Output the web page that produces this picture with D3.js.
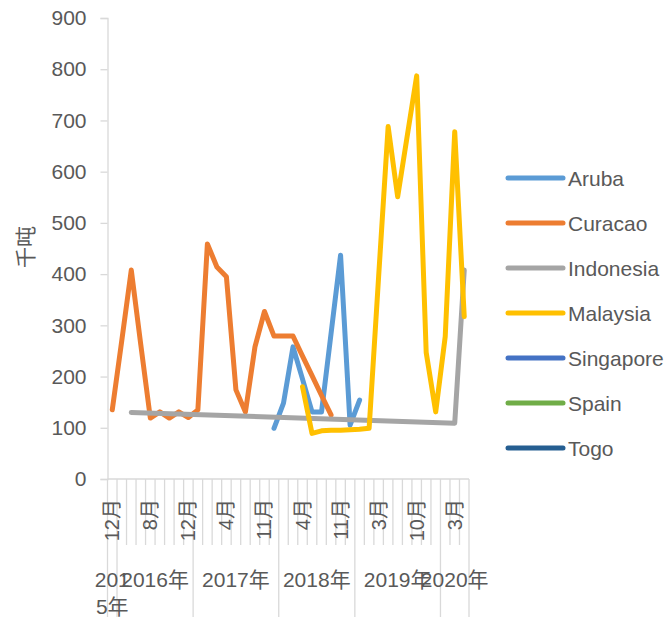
<!DOCTYPE html>
<html>
<head>
<meta charset="utf-8">
<script src="https://cdn.jsdelivr.net/npm/d3@7/dist/d3.min.js"></script>
<style>
  body { margin: 0; background: #fff; }
  text { font-family: "Liberation Sans", "Noto Sans CJK SC", sans-serif; fill: #595959; }
</style>
</head>
<body>
<svg width="664" height="617"></svg>
<script>
// category axis: years and the months that appear under each year
var years = ["2015年", "2016年", "2017年", "2018年", "2019年", "2020年"];
var months = [
  [12],
  [5, 6, 7, 8, 9, 10, 11, 12],
  [1, 2, 3, 4, 5, 7, 9, 11, 12],
  [2, 3, 4, 6, 8, 10, 11, 12],
  [1, 2, 3, 5, 7, 8, 10, 11, 12],
  [2, 3, 4]
];
var yTicks = [0, 100, 200, 300, 400, 500, 600, 700, 800, 900];

// values in 千吨, one slot per category (null = no data)
var aruba = [null, null, null, null, null, null, null, null, null, null,   // 0-9
  null, null, null, null, null, null, null, 99, 148, 258,                   // 10-19
  195, 131, 131, 284, 437, 105, 154, null, null, null,                      // 20-29
  null, null, null, null, null, null, null, null];                          // 30-37
var curacao = [135, 270, 408, 262, 119, 131, 119, 131, 120, 135,
  459, 414, 395, 174, 131, 258, 327, 279, 279, 279,
  240, 202, 163, 125, null, null, null, null, null, null,
  null, null, null, null, null, null, null, null];
var indonesia = [null, null, 130, null, null, null, null, null, null, null,
  null, null, null, null, null, null, null, null, null, null,
  null, null, null, null, null, null, null, null, null, null,
  null, null, null, null, null, null, 109, 408];
var malaysia = [null, null, null, null, null, null, null, null, null, null,
  null, null, null, null, null, null, null, null, null, null,
  180, 89, 94, 95, 95, 96, 97, 99, 395, 688,
  551, 669, 787, 247, 131, 278, 678, 317];
var singapore = [];
var spain = [];
var togo = [];

var seriesNames = ["Aruba", "Curacao", "Indonesia", "Malaysia", "Singapore", "Spain", "Togo"];
var seriesValues = [aruba, curacao, indonesia, malaysia, singapore, spain, togo];
var seriesColors = ["#5B9BD5", "#ED7D31", "#A5A5A5", "#FFC000", "#4472C4", "#70AD47", "#255E91"];

var svg = d3.select("svg");
var axisColor = "#D9D9D9";

// flatten categories
var cats = [];
months.forEach(function(ms, yi) {
  ms.forEach(function(m) { cats.push({year: yi, month: m}); });
});

var plotLeft = 107.5, plotRight = 469, plotTop = 18, plotBottom = 479;
var x = d3.scaleBand().domain(d3.range(cats.length)).range([plotLeft, plotRight]).padding(0);
var bw = x.bandwidth();
var y = d3.scaleLinear().domain([0, 900]).range([plotBottom, plotTop]);

// y axis
var yAxis = svg.append("g")
  .attr("transform", "translate(" + plotLeft + ",0)")
  .call(d3.axisLeft(y).tickValues(yTicks).tickSize(7).tickPadding(14));
yAxis.select(".domain").attr("stroke", axisColor).attr("stroke-width", 1.3);
yAxis.selectAll(".tick line").attr("stroke", axisColor).attr("stroke-width", 1.3);
yAxis.selectAll(".tick text").attr("font-size", 21)
  .style("font-family", "'Liberation Sans', sans-serif").attr("fill", "#595959");

svg.append("text")
  .attr("transform", "translate(25,247) rotate(-90)")
  .attr("text-anchor", "middle")
  .attr("dominant-baseline", "central")
  .attr("font-size", 21)
  .text("千吨");

// x axis (two-level category axis)
var xg = svg.append("g");
xg.append("line")
  .attr("x1", plotLeft).attr("x2", plotRight).attr("y1", plotBottom).attr("y2", plotBottom)
  .attr("stroke", axisColor).attr("stroke-width", 1.3);

var yearStart = [0];
months.forEach(function(ms, i) { yearStart.push(yearStart[i] + ms.length); });

d3.range(cats.length + 1).forEach(function(i) {
  var xx = plotLeft + i * x.step();
  var isYear = yearStart.indexOf(i) >= 0;
  xg.append("line")
    .attr("x1", xx).attr("x2", xx)
    .attr("y1", plotBottom).attr("y2", isYear ? 617 : 545)
    .attr("stroke", axisColor).attr("stroke-width", 1.3);
});

// month labels every 4th category
cats.forEach(function(c, i) {
  if (i % 4 !== 0) return;
  var cx = x(i) + bw / 2;
  xg.append("text")
    .attr("transform", "translate(" + cx + ",499) rotate(-90)")
    .attr("text-anchor", "end")
    .attr("dominant-baseline", "central")
    .attr("font-size", 20)
    .text(c.month + "月");
});

// year labels
years.forEach(function(yr, yi) {
  var x0 = plotLeft + yearStart[yi] * x.step();
  var x1 = plotLeft + yearStart[yi + 1] * x.step();
  var t = xg.append("text")
    .attr("x", (x0 + x1) / 2).attr("y", 587)
    .attr("text-anchor", "middle")
    .attr("font-size", 21);
  if (x1 - x0 < 20) {
    // narrow span: label wraps like the original
    t.append("tspan").attr("x", (x0 + x1) / 2).attr("y", 587).text(yr.slice(0, 3));
    t.append("tspan").attr("x", (x0 + x1) / 2).attr("y", 614).text(yr.slice(3));
  } else {
    t.text(yr);
  }
});

// series lines (gaps are bridged like Excel's "connect with line")
var line = d3.line()
  .x(function(d) { return x(d.i) + bw / 2; })
  .y(function(d) { return y(d.v); });

seriesValues.forEach(function(vals, si) {
  var pts = [];
  vals.forEach(function(v, i) { if (v != null) pts.push({i: i, v: v}); });
  if (pts.length < 2) return;
  svg.append("path")
    .datum(pts)
    .attr("d", line)
    .attr("fill", "none")
    .attr("stroke", seriesColors[si])
    .attr("stroke-width", 5)
    .attr("stroke-linecap", "round")
    .attr("stroke-linejoin", "round");
});

// legend
var lg = svg.append("g");
seriesNames.forEach(function(n, i) {
  var ly = 178 + i * 45;
  lg.append("line")
    .attr("x1", 508).attr("x2", 563).attr("y1", ly).attr("y2", ly)
    .attr("stroke", seriesColors[i]).attr("stroke-width", 5)
    .attr("stroke-linecap", "round");
  lg.append("text")
    .attr("x", 568).attr("y", ly)
    .attr("dominant-baseline", "central")
    .attr("font-size", 21)
    .text(n);
});
</script>
</body>
</html>
